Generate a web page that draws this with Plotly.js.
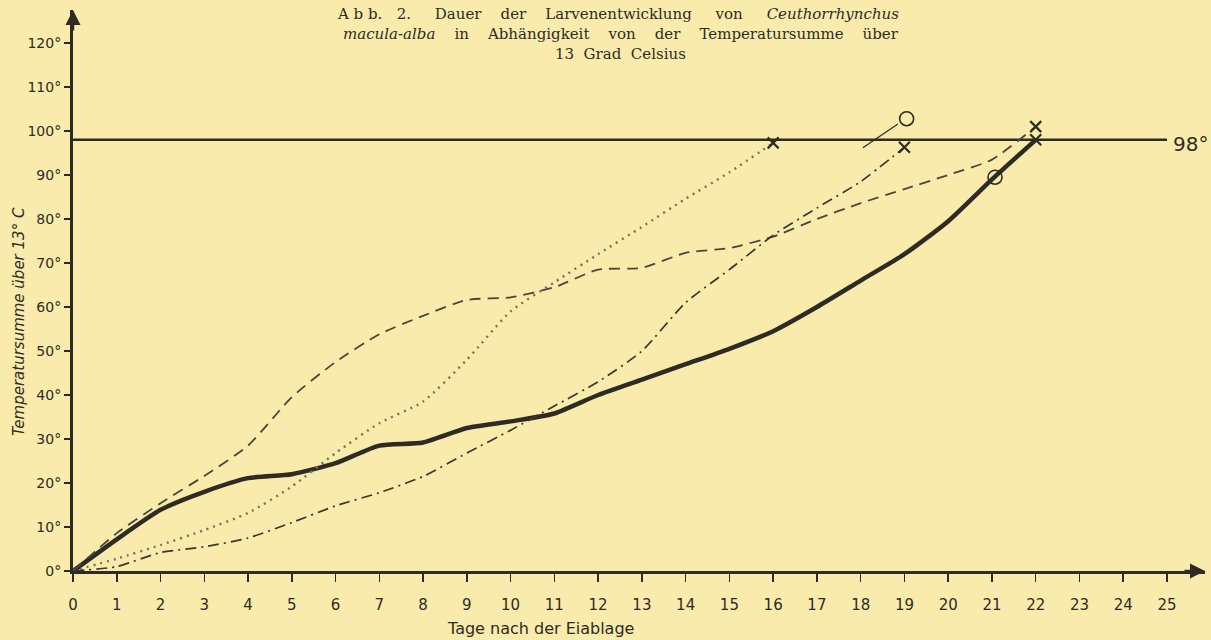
<!DOCTYPE html>
<html>
<head>
<meta charset="utf-8">
<script src="https://cdn.plot.ly/plotly-3.0.1.min.js"></script>
<style>
html,body{margin:0;padding:0;background:#f8ebab;}
#chart{width:1211px;height:640px;}
</style>
</head>
<body>
<div id="chart"></div>
<script>
// ---- data ----
const days = [0,1,2,3,4,5,6,7,8,9,10,11,12,13,14,15,16,17,18,19,20,21,22];
const solidSeries  = [0,7.2,13.9,18,21.1,22,24.5,28.5,29.2,32.5,34,35.8,40,43.5,47,50.5,54.5,60,66,72,79.5,89,98];
const dashedSeries = [0,8.6,15.4,21.6,28.5,39.5,47.5,53.8,58,61.6,62.2,64.5,68.5,68.9,72.3,73.4,76,80,83.6,86.8,90,93.5,101];
const dottedDays   = [0,1,2,3,4,5,6,7,8,9,10,11,12,13,14,15,16];
const dottedSeries = [0,2.8,5.9,9.3,13.2,19.2,26.8,33.6,38.5,48,59,65.6,72,78.2,84.6,90.6,97.3];
const dashDotDays   = [0,1,2,3,4,5,6,7,8,9,10,11,12,13,14,15,16,17,18,19];
const dashDotSeries = [0,1,4.2,5.5,7.5,11,14.8,17.8,21.5,26.8,32,37.5,43,50,61,68.5,76.3,82.5,88.5,96.3];
const limitDays = [0,25];
const limitValue = [98,98];
const crossDays   = [16,19,22,22];
const crossValues = [97.3,96.3,101,98];
const circleDays   = [19.05,21.07];
const circleValues = [102.8,89.5];
const pointerA_x = [18.05,18.85]; const pointerA_y = [96.2,101.6];
const pointerB_x = [21.2,21.95];  const pointerB_y = [90.8,97.6];
const xTicks = [0,1,2,3,4,5,6,7,8,9,10,11,12,13,14,15,16,17,18,19,20,21,22,23,24,25];
const yTicks = [0,10,20,30,40,50,60,70,80,90,100,110,120];

const ink = '#2e2b25';
const bg = '#f8ebab';
const W = 1211, H = 640, L = 73, R = 6, T = 10, B = 69;
const pw = W - L - R, ph = H - T - B;
const px2x = p => (p - L) / pw;
const py2y = p => (H - B - p) / ph;
const sp = n => '&nbsp;'.repeat(n);

const traces = [
  {x: limitDays, y: limitValue, mode:'lines', line:{color:ink, width:2.6}, hoverinfo:'skip'},
  {x: days, y: solidSeries, mode:'lines', line:{color:ink, width:4.5, shape:'spline', smoothing:0.6}},
  {x: days, y: dashedSeries, mode:'lines', line:{color:'#4a463c', width:1.8, dash:'11px,7px', shape:'spline', smoothing:0.6}},
  {x: dottedDays, y: dottedSeries, mode:'lines', line:{color:'#767260', width:2.4, dash:'2px,5px', shape:'spline', smoothing:0.6}},
  {x: dashDotDays, y: dashDotSeries, mode:'lines', line:{color:'#3a372f', width:1.7, dash:'11px,5px,2px,5px', shape:'spline', smoothing:0.6}},
  {x: pointerA_x, y: pointerA_y, mode:'lines', line:{color:ink, width:1.2}},
  {x: pointerB_x, y: pointerB_y, mode:'lines', line:{color:ink, width:1.2}},
  {x: crossDays, y: crossValues, mode:'markers', marker:{symbol:'x-thin-open', size:11, color:ink, line:{color:ink, width:2.2}}},
  {x: circleDays, y: circleValues, mode:'markers', marker:{symbol:'circle-open', size:14, color:ink, line:{color:ink, width:1.6}}}
];

const tickFont = {family:'DejaVu Sans', size:15, color:ink};
const titleFont = {family:'DejaVu Serif', size:15, color:ink};
const layout = {
  width: W, height: H,
  paper_bgcolor: bg, plot_bgcolor: bg,
  margin: {l:L, r:R, t:T, b:B},
  showlegend: false,
  xaxis: {
    range: [0, pw/43.76], tickvals: xTicks, ticktext: xTicks.map(String),
    showgrid:false, zeroline:false, showline:true, linecolor:ink, linewidth:3,
    ticks:'outside', ticklen:8, tickwidth:1.5, tickcolor:ink,
    tickfont: tickFont, ticklabelstandoff: 10
  },
  yaxis: {
    range: [0, ph/4.4], tickvals: yTicks, ticktext: yTicks.map(v => v + '°'),
    showgrid:false, zeroline:false, showline:true, linecolor:ink, linewidth:3,
    ticks:'outside', ticklen:6, tickwidth:1.5, tickcolor:ink,
    tickfont: {family:'DejaVu Sans', size:14, color:ink}
  },
  annotations: [
    {xref:'paper', yref:'paper', x:px2x(618), y:py2y(14), showarrow:false, xanchor:'center', yanchor:'middle',
     font:titleFont,
     text:'A'+sp(1)+'b'+sp(1)+'b.'+sp(3)+'2.'+sp(5)+'Dauer'+sp(4)+'der'+sp(4)+'Larvenentwicklung'+sp(5)+'von'+sp(5)+'<i>Ceuthorrhynchus</i>'},
    {xref:'paper', yref:'paper', x:px2x(621), y:py2y(34), showarrow:false, xanchor:'center', yanchor:'middle',
     font:titleFont,
     text:'<i>macula-alba</i>'+sp(4)+'in'+sp(4)+'Abhängigkeit'+sp(4)+'von'+sp(4)+'der'+sp(4)+'Temperatursumme'+sp(4)+'über'},
    {xref:'paper', yref:'paper', x:px2x(620), y:py2y(54), showarrow:false, xanchor:'center', yanchor:'middle',
     font:titleFont, text:'13'+sp(2)+'Grad'+sp(2)+'Celsius'},
    {xref:'paper', yref:'paper', x:px2x(19), y:py2y(322), showarrow:false, textangle:-90, xanchor:'center', yanchor:'middle',
     font:{family:'DejaVu Sans', size:15, color:ink}, text:'<i>Temperatursumme über 13° C</i>'},
    {xref:'paper', yref:'paper', x:px2x(540), y:py2y(628), showarrow:false, xanchor:'center', yanchor:'middle',
     font:{family:'DejaVu Sans', size:16, color:ink}, text:'Tage nach der Eiablage'},
    {xref:'paper', yref:'y', x:px2x(1190), y:97, showarrow:false, xanchor:'center', yanchor:'middle',
     font:{family:'DejaVu Sans', size:20, color:ink}, text:'98°'},
    // axis arrowheads
    {xref:'x', yref:'paper', x:0, y:1, ax:0, ay:22, showarrow:true, arrowhead:2, arrowsize:1.2, arrowwidth:2.5, arrowcolor:ink, text:''},
    {xref:'paper', yref:'y', x:1, y:0, ax:-22, ay:0, showarrow:true, arrowhead:2, arrowsize:1.2, arrowwidth:2.5, arrowcolor:ink, text:''}
  ]
};
Plotly.newPlot('chart', traces, layout, {displayModeBar:false, staticPlot:true});
</script>
</body>
</html>
